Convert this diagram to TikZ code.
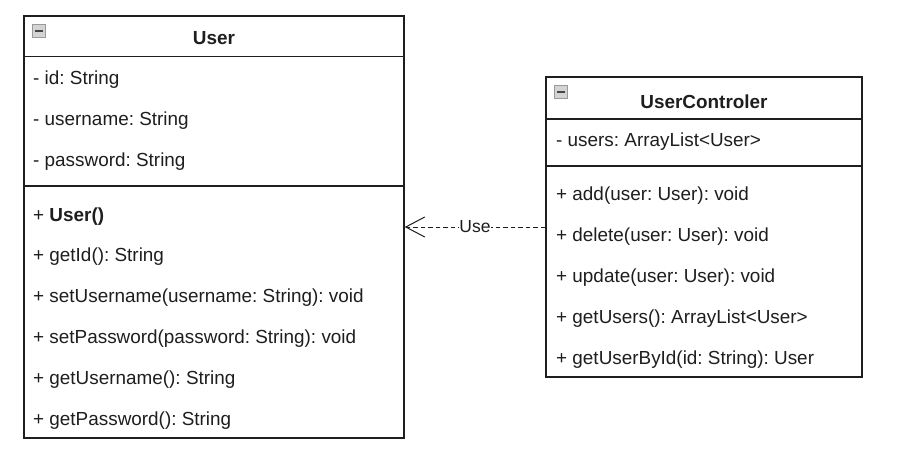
\documentclass[tikz,border=0pt]{standalone}
\usepackage{fontspec}
\setmainfont{Liberation Sans}
\usetikzlibrary{arrows.meta,calc}
\definecolor{ink}{HTML}{1E1E1E}
\definecolor{iconfill}{HTML}{D4D4D4}
\definecolor{iconedge}{HTML}{9A9A9A}
\definecolor{iconbar}{HTML}{454545}
\begin{document}
\frenchspacing
\begin{tikzpicture}[x=1pt,y=-1pt,
  classbox/.style={draw=ink,line width=1.4pt,fill=white,inner sep=0pt},
  sep/.style={draw=ink,line width=1.4pt},
  txt/.style={anchor=west,inner sep=0pt,text=ink,font=\fontsize{18.9}{21}\selectfont},
  ttl/.style={inner sep=0pt,text=ink,font=\fontsize{18.9}{21}\selectfont\bfseries},
  icon/.style={draw=iconedge,fill=iconfill,line width=0.8pt,minimum size=12.5pt,inner sep=0pt},
  bar/.style={draw=iconbar,line width=1.4pt},
  uselink/.style={draw=ink,line width=1pt,dash pattern=on 4.5pt off 3pt,-{Straight Barb[length=19pt,width=20pt,line width=1pt]}},
  lbl/.style={fill=white,inner xsep=0pt,inner ysep=1pt,text=ink,font=\fontsize{17.5}{19}\selectfont}]
\useasboundingbox (0,0) rectangle (909,463);
\fill[white] (0,0) rectangle (909,463);

% ---- User class ----
\node[classbox,minimum width=380pt,minimum height=422pt] (user) at (214,227) {};
\draw[sep] (24,56.5) -- (404,56.5);
\draw[sep] (24,186) -- (404,186);
\node[icon] (uicon) at (39,31) {};
\draw[bar] ($(uicon.center)+(-4,0)$) -- ($(uicon.center)+(4,0)$);
\node[ttl] (utitle) at (214,38.5) {User};
\node[txt] (ua1) at (33,79.5) {- id: String};
\node[txt] (ua2) at (33,120.5) {- username: String};
\node[txt] (ua3) at (33,161.5) {- password: String};
\node[txt] (um1) at (33,216.5) {+ \textbf{User()}};
\node[txt] (um2) at (33,256.5) {+ getId(): String};
\node[txt] (um3) at (33,297.5) {+ setUsername(username: String): void};
\node[txt] (um4) at (33,338.5) {+ setPassword(password: String): void};
\node[txt] (um5) at (33,379.5) {+ getUsername(): String};
\node[txt] (um6) at (33,420.5) {+ getPassword(): String};

% ---- UserControler class ----
\node[classbox,minimum width=316pt,minimum height=300pt] (ctrl) at (704,227) {};
\draw[sep] (546,119) -- (862,119);
\draw[sep] (546,166) -- (862,166);
\node[icon] (cicon) at (561,92) {};
\draw[bar] ($(cicon.center)+(-4,0)$) -- ($(cicon.center)+(4,0)$);
\node[ttl] (ctitle) at (704,101.5) {UserControler};
\node[txt] (ca1) at (556,141.5) {- users: ArrayList<User>};
\node[txt] (cm1) at (556,195.5) {+ add(user: User): void};
\node[txt] (cm2) at (556,236.5) {+ delete(user: User): void};
\node[txt] (cm3) at (556,277.5) {+ update(user: User): void};
\node[txt] (cm4) at (556,318.5) {+ getUsers(): ArrayList<User>};
\node[txt] (cm5) at (556,359.5) {+ getUserById(id: String): User};

% ---- dependency ----
\draw[uselink] (ctrl.west) -- node[lbl] {Use} (user.east);
\end{tikzpicture}
\end{document}
